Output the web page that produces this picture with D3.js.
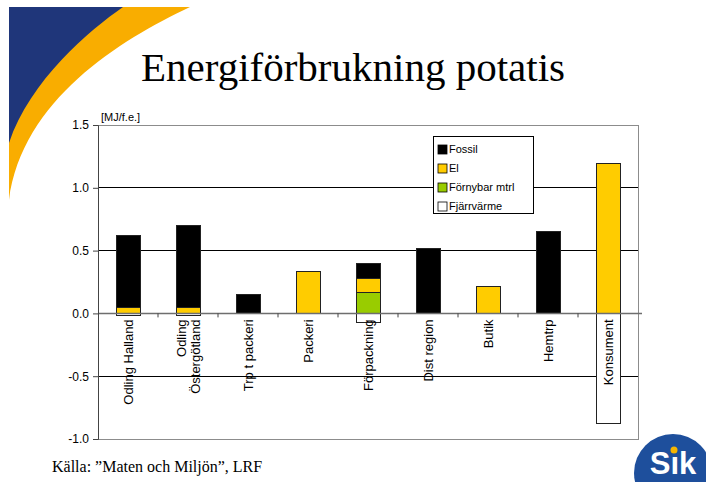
<!DOCTYPE html>
<html>
<head>
<meta charset="utf-8">
<script src="https://cdn.jsdelivr.net/npm/d3@7"></script>
<style>
  html, body { margin: 0; padding: 0; background: #fff; }
  svg { display: block; }
</style>
</head>
<body>
<div id="chart"></div>
<script>
// Kategorier (x-axel) och etiketter, radbrutna som i originalet
const CATEGORIES = ['Odling Halland', 'Odling Östergötland', 'Trp t packeri', 'Packeri', 'Förpackning', 'Dist region', 'Butik', 'Hemtrp', 'Konsument']
const LABEL_LINES = [['Odling  Halland'], ['Odling', 'Östergötland'], ['Trp  t packeri'], ['Packeri'], ['Förpackning'], ['Dist region'], ['Butik'], ['Hemtrp'], ['Konsument']]

// Serier [MJ/f.e.]
const FOSSIL = [0.575, 0.655, 0.15, 0, 0.12, 0.52, 0, 0.65, 0]
const EL = [0.045, 0.045, 0, 0.335, 0.11, 0, 0.215, 0, 1.19]
const FORNYBAR = [0, 0, 0, 0, 0.17, 0, 0, 0, 0]
const FJARRVARME = [-0.015, -0.015, 0, 0, -0.07, 0, 0, 0, -0.88]

const Y_TICKS = [-1.0, -0.5, 0.0, 0.5, 1.0, 1.5]
const LEGEND = ['Fossil', 'El', 'Förnybar mtrl', 'Fjärrvärme']

const WIDTH = 706
const HEIGHT = 482
const PLOT = { left: 98, right: 638, top: 125, bottom: 439 }
const COLORS = { Fossil: '#000000', El: '#ffcc00', 'Förnybar mtrl': '#99cc00', Fjärrvärme: '#ffffff' }

const svg = d3.select('#chart')
  .append('svg')
  .attr('width', WIDTH)
  .attr('height', HEIGHT)

// Dekoration uppe till vänster (blå + gul båge)
svg.append('path')
  .attr('d', 'M9,7 L190,7 C120,40 22,100 9,200 Z')
  .attr('fill', '#f9ad00')
svg.append('path')
  .attr('d', 'M9,7 L123,7 C90,30 30,80 9,143 Z')
  .attr('fill', '#1f367a')

// Titel
svg.append('text')
  .attr('x', 353)
  .attr('y', 81)
  .attr('text-anchor', 'middle')
  .style('font-family', '"Liberation Serif", "Times New Roman", serif')
  .style('font-size', '41px')
  .style('fill', '#000')
  .text('Energiförbrukning potatis')

// Tabell for stack
const rows = CATEGORIES.map((c, i) => ({
  cat: c,
  Fossil: FOSSIL[i],
  El: EL[i],
  'Förnybar mtrl': FORNYBAR[i],
  Fjärrvärme: FJARRVARME[i]
}))

const stack = d3.stack()
  .keys(['Förnybar mtrl', 'El', 'Fossil', 'Fjärrvärme'])
  .offset(d3.stackOffsetDiverging)
const series = stack(rows)

const x = d3.scaleBand()
  .domain(CATEGORIES)
  .range([PLOT.left, PLOT.right])
  .paddingInner(0.6)
  .paddingOuter(0.3)

const y = d3.scaleLinear()
  .domain([-1, 1.5])
  .range([PLOT.bottom, PLOT.top])

// Rutnät
svg.append('g')
  .selectAll('line')
  .data(Y_TICKS.filter(t => t !== 0 && t !== 1.5))
  .join('line')
  .attr('x1', PLOT.left)
  .attr('x2', PLOT.right)
  .attr('y1', d => y(d))
  .attr('y2', d => y(d))
  .attr('stroke', '#000')
  .attr('stroke-width', 1)
  .attr('shape-rendering', 'crispEdges')

// Ram runt diagramytan
svg.append('rect')
  .attr('x', PLOT.left)
  .attr('y', PLOT.top)
  .attr('width', PLOT.right - PLOT.left)
  .attr('height', PLOT.bottom - PLOT.top)
  .attr('fill', 'none')
  .attr('stroke', '#8c8c8c')
  .attr('stroke-width', 1)
  .attr('shape-rendering', 'crispEdges')

// Staplar
svg.append('g')
  .selectAll('g')
  .data(series)
  .join('g')
  .attr('fill', d => COLORS[d.key])
  .selectAll('rect')
  .data(d => d.filter(s => s[1] !== s[0]))
  .join('rect')
  .attr('x', d => x(d.data.cat))
  .attr('width', x.bandwidth())
  .attr('y', d => y(Math.max(d[0], d[1])))
  .attr('height', d => Math.abs(y(d[0]) - y(d[1])))
  .attr('stroke', '#222')
  .attr('stroke-width', 1)
  .attr('shape-rendering', 'crispEdges')

// Nollinje
svg.append('line')
  .attr('x1', PLOT.left)
  .attr('x2', PLOT.right + 4)
  .attr('y1', y(0))
  .attr('y2', y(0))
  .attr('stroke', '#6e6e6e')
  .attr('stroke-width', 1.5)

// x-axelns streck mellan kategorierna
const half = x.step() * x.paddingInner() / 2
svg.append('g')
  .selectAll('line')
  .data(CATEGORIES.slice(1))
  .join('line')
  .attr('x1', d => x(d) - half)
  .attr('x2', d => x(d) - half)
  .attr('y1', y(0))
  .attr('y2', y(0) + 4)
  .attr('stroke', '#444')
  .attr('stroke-width', 1)

// y-axel
svg.append('g')
  .attr('transform', `translate(${PLOT.left},0)`)
  .call(d3.axisLeft(y).tickValues(Y_TICKS).tickSize(5).tickPadding(4).tickFormat(d => d.toFixed(1)))
  .call(g => g.select('.domain').attr('stroke', '#444'))
  .call(g => g.selectAll('.tick line').attr('stroke', '#444'))
  .call(g => g.selectAll('text')
    .style('font-family', '"Liberation Sans", Arial, sans-serif')
    .style('font-size', '12px')
    .style('fill', '#000'))

svg.append('text')
  .attr('x', PLOT.left + 3)
  .attr('y', PLOT.top - 4)
  .style('font-family', '"Liberation Sans", Arial, sans-serif')
  .style('font-size', '11px')
  .text('[MJ/f.e.]')

// Kategorietiketter, roterade
const labels = svg.append('g')
  .selectAll('g')
  .data(CATEGORIES)
  .join('g')
  .attr('transform', d => `translate(${x(d) + x.bandwidth() / 2},${y(0) + 6}) rotate(-90)`)

labels.each(function (d, i) {
  const lines = LABEL_LINES[i]
  d3.select(this).selectAll('text')
    .data(lines)
    .join('text')
    .attr('x', 0)
    .attr('y', (l, j) => (j - (lines.length - 1) / 2) * 14 + 4.5)
    .attr('text-anchor', 'end')
    .style('font-family', '"Liberation Sans", Arial, sans-serif')
    .style('font-size', '13px')
    .style('fill', '#000')
    .text(l => l)
})

// Förklaring
const legend = svg.append('g').attr('transform', 'translate(433,136)')
legend.append('rect')
  .attr('width', 100)
  .attr('height', 77)
  .attr('fill', '#fff')
  .attr('stroke', '#000')
  .attr('stroke-width', 1)
  .attr('shape-rendering', 'crispEdges')

const items = legend.selectAll('g')
  .data(LEGEND)
  .join('g')
  .attr('transform', (d, i) => `translate(5,${9 + i * 19})`)
items.append('rect')
  .attr('width', 9)
  .attr('height', 9)
  .attr('fill', d => COLORS[d])
  .attr('stroke', '#000')
  .attr('stroke-width', 0.8)
items.append('text')
  .attr('x', 11)
  .attr('y', 8)
  .style('font-family', '"Liberation Sans", Arial, sans-serif')
  .style('font-size', '11px')
  .text(d => d)

// Källa
svg.append('text')
  .attr('x', 52)
  .attr('y', 472)
  .style('font-family', '"Liberation Serif", "Times New Roman", serif')
  .style('font-size', '16px')
  .text('Källa: \u201DMaten och Miljön\u201D, LRF')

// Sik-logga
const logo = svg.append('g')
logo.append('circle')
  .attr('cx', 673)
  .attr('cy', 473)
  .attr('r', 39)
  .attr('fill', '#1e4f9c')
logo.append('text')
  .attr('x', 673)
  .attr('y', 474)
  .attr('text-anchor', 'middle')
  .style('font-family', '"Liberation Sans", Arial, sans-serif')
  .style('font-weight', 'bold')
  .style('font-size', '31px')
  .style('fill', '#fff')
  .text('S\u0131k')
logo.append('circle')
  .attr('cx', 674)
  .attr('cy', 450)
  .attr('r', 3.5)
  .attr('fill', '#f7b500')
</script>
</body>
</html>
